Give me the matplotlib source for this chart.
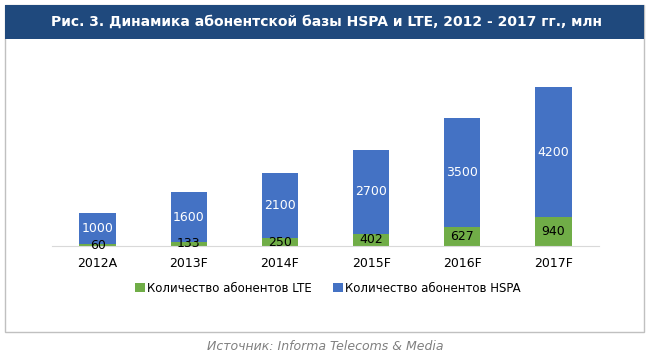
import matplotlib.pyplot as plt
import numpy as np
from matplotlib.patches import Rectangle

years = ['2012A', '2013F', '2014F', '2015F', '2016F', '2017F']
lte = [60, 133, 250, 402, 627, 940]
hspa = [1000, 1600, 2100, 2700, 3500, 4200]

blue = '#4472C4'
green = '#70AD47'
plt.rcParams['font.family'] = ['DejaVu Sans']

fig = plt.figure(figsize=(6.49, 3.61), dpi=100)
W, H = 649, 361

# outer frame and title bar
fig.patches.append(Rectangle((5 / W, 1 - 332 / H), 639 / W, 327 / H, transform=fig.transFigure,
                             facecolor='white', edgecolor='#C0C0C0', linewidth=1, zorder=-2))
fig.patches.append(Rectangle((5 / W, 1 - 39 / H), 639 / W, 34 / H, transform=fig.transFigure,
                             facecolor='#1F497D', edgecolor='none', zorder=-1))
fig.text(326 / W, 1 - 22 / H, 'Рис. 3. Динамика абонентской базы HSPA и LTE, 2012 - 2017 гг., млн',
         color='white', fontsize=10, fontweight='bold', ha='center', va='center')

ax = fig.add_axes([52 / W, 1 - 246 / H, 547 / W, 170 / H])
ax.set_zorder(2)
x = np.arange(len(years))
ax.bar(x, lte, width=0.4, color=green, label='Количество абонентов LTE')
ax.bar(x, hspa, width=0.4, bottom=lte, color=blue, label='Количество абонентов HSPA')

for i in range(len(years)):
    ax.text(x[i], lte[i] / 2, str(lte[i]), ha='center', va='center', fontsize=9, color='black')
    ax.text(x[i], lte[i] + hspa[i] / 2, str(hspa[i]), ha='center', va='center', fontsize=9, color='white')

ax.set_xlim(-0.5, len(years) - 0.5)
ax.set_ylim(0, 5500)
ax.set_xticks(x)
ax.set_xticklabels(years, fontsize=9)
ax.tick_params(axis='x', length=0, pad=8)
ax.set_yticks([])
for s in ['top', 'right', 'left']:
    ax.spines[s].set_visible(False)
ax.spines['bottom'].set_color('#D9D9D9')
ax.set_facecolor('none')

fig.legend(loc='center', bbox_to_anchor=(328 / W, 1 - 288 / H), ncol=2, frameon=False,
           fontsize=8.5, handlelength=0.8, handleheight=0.8, handletextpad=0.2, columnspacing=1.8)

fig.text(325 / W, 1 - 347 / H, 'Источник: Informa Telecoms & Media', color='#808080',
         fontsize=9, style='italic', ha='center', va='center')

fig.savefig('out.png', dpi=100)
